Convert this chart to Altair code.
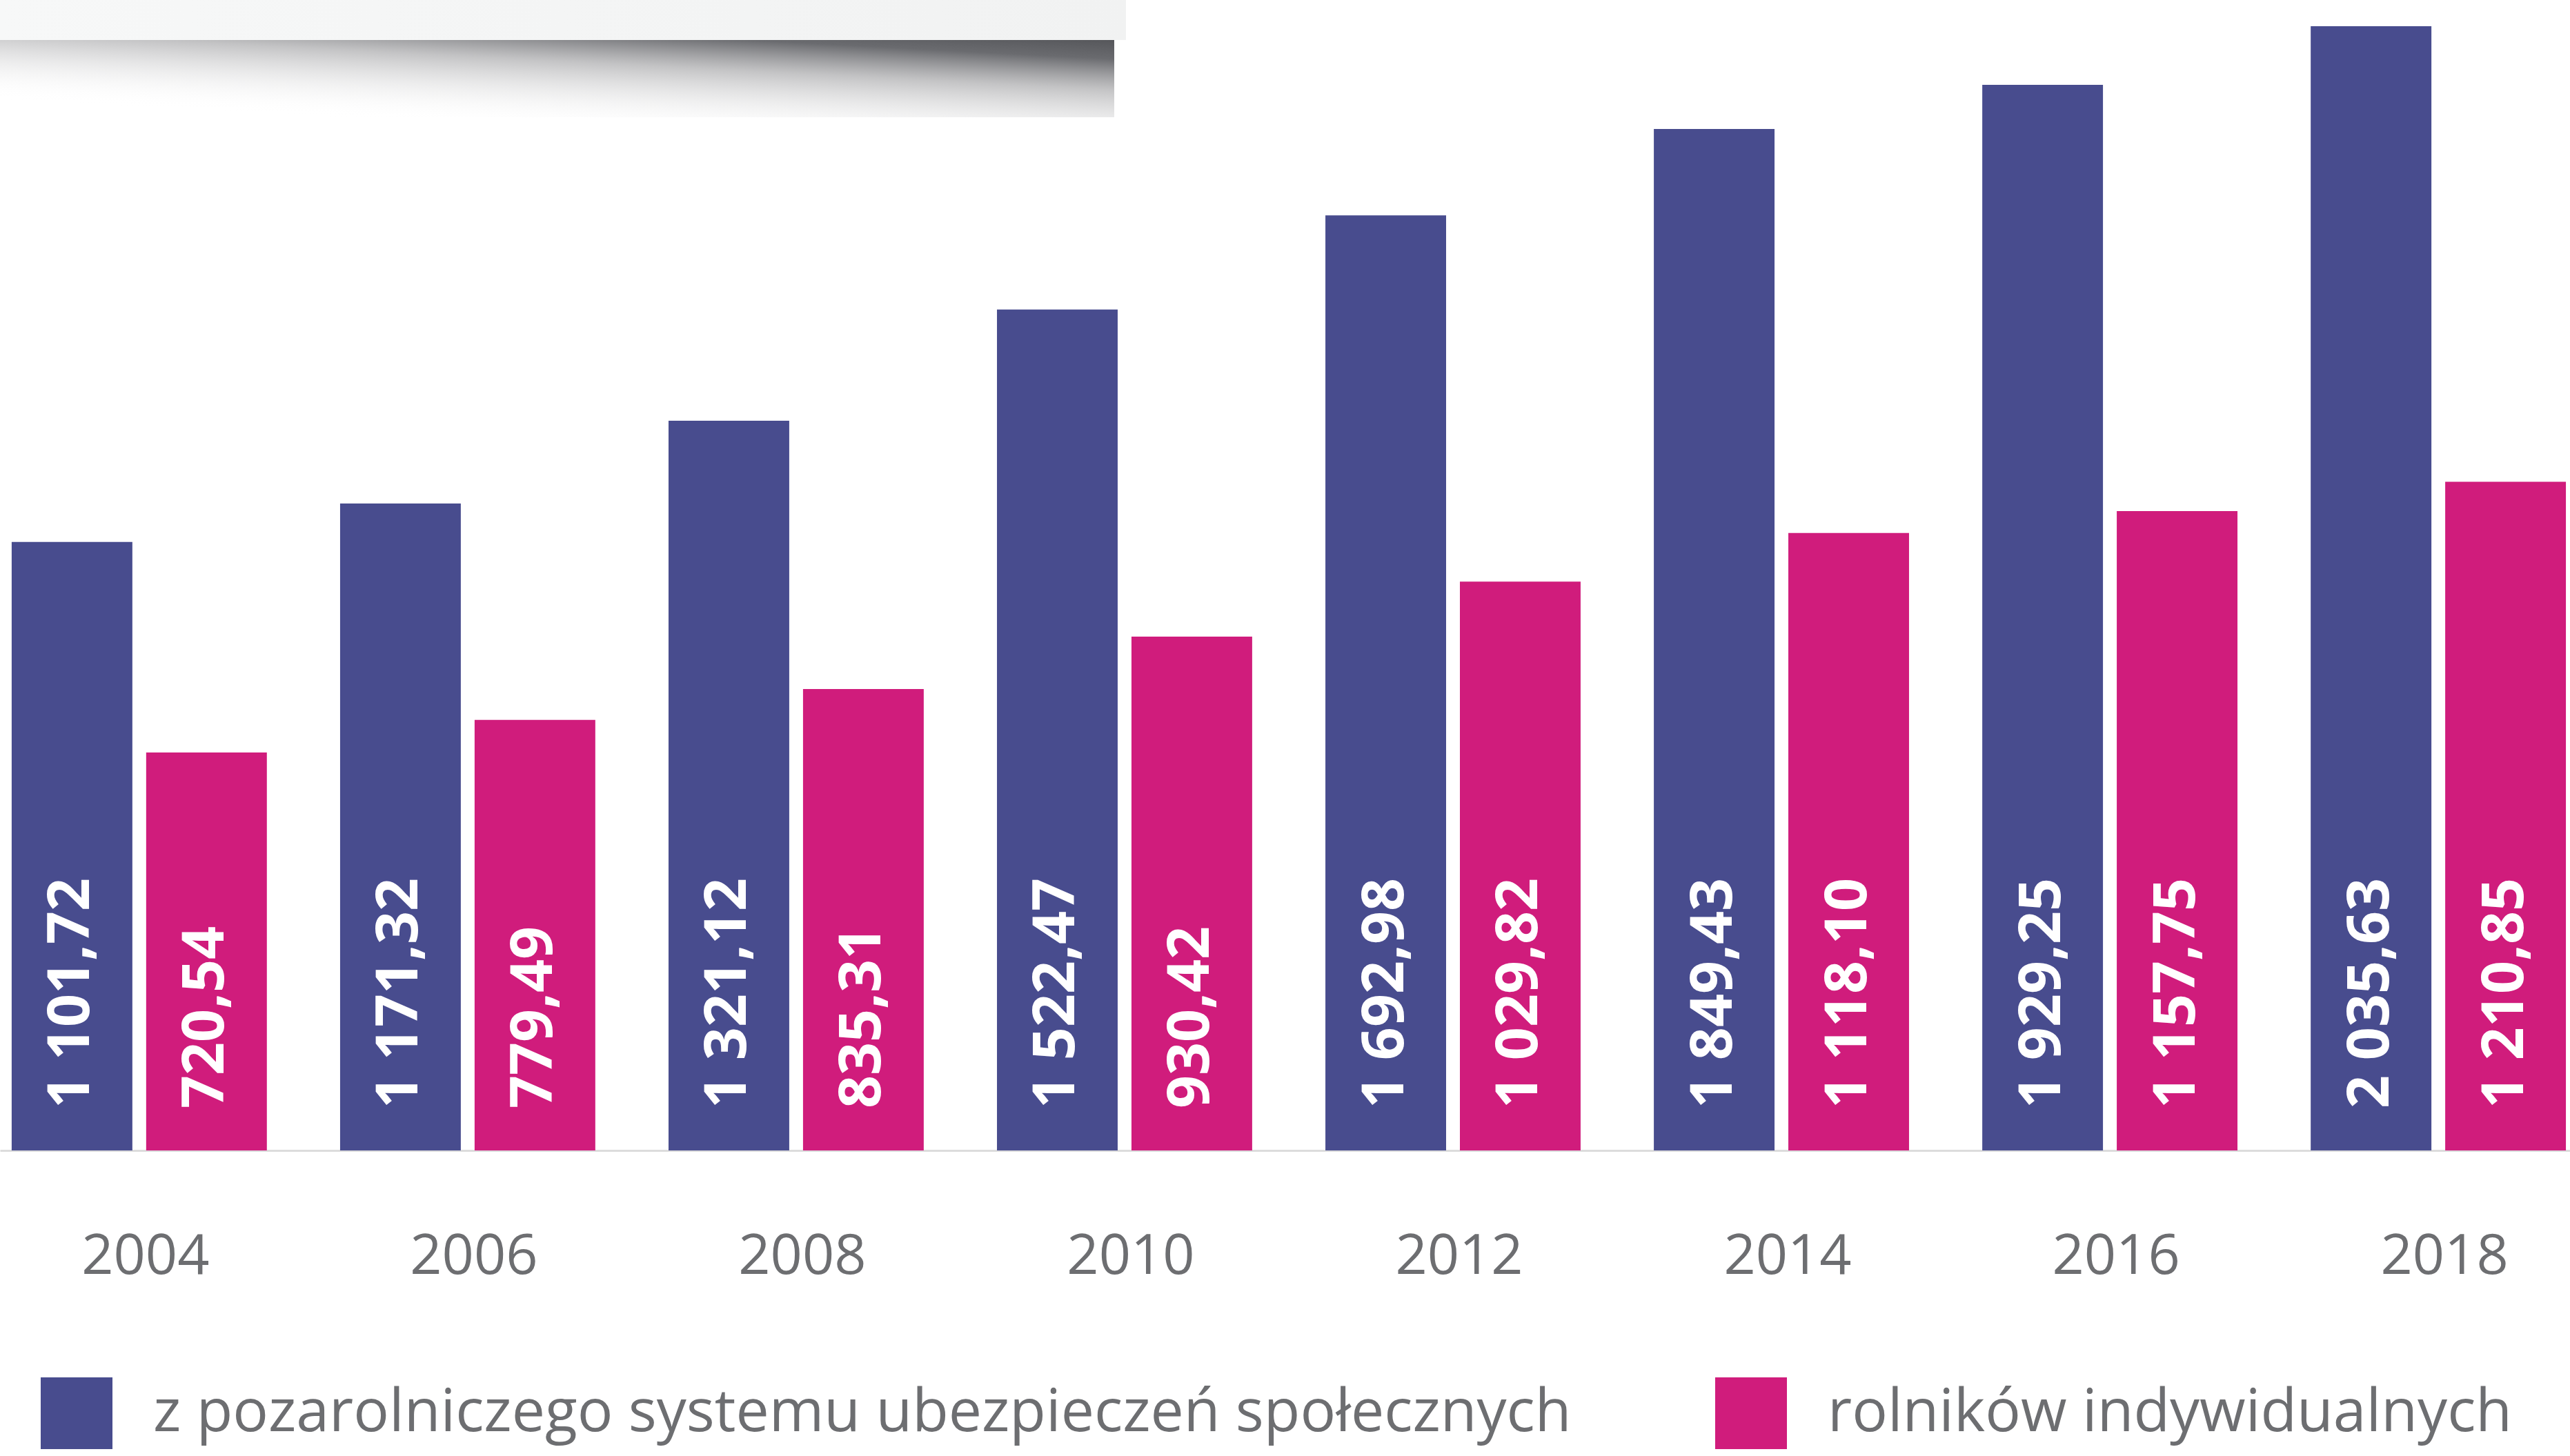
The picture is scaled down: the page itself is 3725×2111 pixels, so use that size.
import altair as alt
import pandas as pd

years = ["2004", "2006", "2008", "2010", "2012", "2014", "2016", "2018"]
series = ["z pozarolniczego systemu ubezpieczeń społecznych", "rolników indywidualnych"]
nonagri = [1101.72, 1171.32, 1321.12, 1522.47, 1692.98, 1849.43, 1929.25, 2035.63]
farmers = [720.54, 779.49, 835.31, 930.42, 1029.82, 1118.10, 1157.75, 1210.85]
colors = ["#484C8E", "#D01C7C"]


def fmt(v):
    s = f"{v:,.2f}"
    return s.replace(",", " ").replace(".", ",")


rows = []
for i, yr in enumerate(years):
    for s, vals in zip(series, [nonagri, farmers]):
        rows.append({"year": yr, "series": s, "value": vals[i], "label": fmt(vals[i]), "zero": 0})
df = pd.DataFrame(rows)

x_enc = alt.X(
    "year:N",
    sort=years,
    title=None,
    scale=alt.Scale(paddingInner=0.223, paddingOuter=0.024, align=0.74),
    axis=alt.Axis(
        labelAngle=0,
        ticks=False,
        labelFont="Open Sans",
        labelFontSize=81,
        labelColor="#6D6E71",
        labelPadding=114,
        labelOffset=9,
        labelLimit=0,
        domainColor="#DCDCDC",
        domainWidth=3,
        grid=False,
    ),
)
xo_enc = alt.XOffset("series:N", sort=series, scale=alt.Scale(paddingInner=0.1026, paddingOuter=0))
y_scale = alt.Scale(domain=[0, 2083], nice=False)

base = alt.Chart(df)

bars = base.mark_bar().encode(
    x=x_enc,
    xOffset=xo_enc,
    y=alt.Y("value:Q", scale=y_scale, axis=None),
    color=alt.Color(
        "series:N",
        sort=series,
        scale=alt.Scale(domain=series, range=colors),
        legend=alt.Legend(
            title=None,
            orient="none",
            legendX=59,
            legendY=1997,
            direction="horizontal",
            symbolType="square",
            symbolSize=10816,
            symbolStrokeWidth=0,
            symbolOpacity=1,
            labelFont="Open Sans",
            labelFontSize=86,
            labelColor="#6D6E71",
            labelOffset=59,
            labelLimit=0,
            columnPadding=208,
            padding=0,
        ),
    ),
)

labels = base.mark_text(
    angle=270,
    align="left",
    baseline="middle",
    dx=61,
    font="Open Sans",
    fontWeight="bold",
    fontSize=84,
    color="white",
).encode(
    x=x_enc,
    xOffset=xo_enc,
    y=alt.Y("zero:Q", scale=y_scale, axis=None),
    text="label:N",
)

decor_df = pd.DataFrame({"k": [0]})
shadow = alt.Chart(decor_df).mark_rect(
    color=alt.LinearGradient(
        gradient="linear",
        x1=1, y1=0, x2=0.3, y2=1,
        stops=[
            alt.GradientStop(color="#505155", offset=0),
            alt.GradientStop(color="#6A6B6F", offset=0.2),
            alt.GradientStop(color="rgba(170,170,172,0.7)", offset=0.45),
            alt.GradientStop(color="rgba(255,255,255,0)", offset=1),
        ],
    )
).encode(x=alt.value(0), x2=alt.value(1615), y=alt.value(50), y2=alt.value(170))

box = alt.Chart(decor_df).mark_rect(
    color=alt.LinearGradient(
        gradient="linear",
        x1=0, y1=0, x2=1, y2=0,
        stops=[
            alt.GradientStop(color="#F7F8F8", offset=0),
            alt.GradientStop(color="#F1F2F2", offset=1),
        ],
    )
).encode(x=alt.value(0), x2=alt.value(1632), y=alt.value(0), y2=alt.value(58))

chart = (
    alt.layer(bars, labels, shadow, box)
    .properties(width=3725, height=1668, padding=0, background="white")
    .configure_view(stroke=None)
)

chart.save("out.html", embed_options={"renderer": "svg", "actions": False})
